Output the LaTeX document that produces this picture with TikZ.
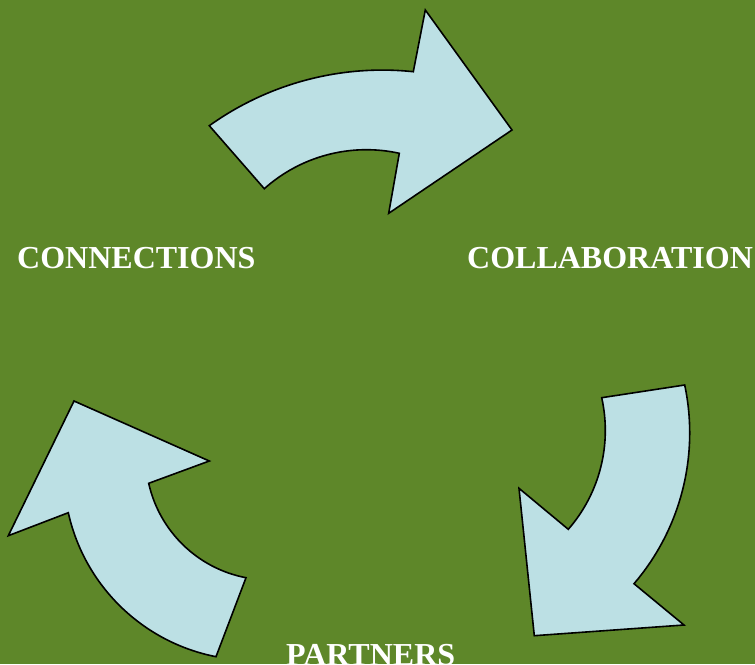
\documentclass[tikz,border=0pt]{standalone}
\usepackage{fontspec}
\setmainfont{Liberation Serif}
\definecolor{bggreen}{RGB}{94,135,41}
\definecolor{arrowblue}{RGB}{188,224,228}
\tikzset{
  cyclearrow/.style={fill=arrowblue, draw=black, line width=1.6pt, line join=miter},
  label/.style={text=white, font=\fontsize{32}{38}\selectfont\bfseries, inner sep=0pt, anchor=base west}
}
\begin{document}
\begin{tikzpicture}[x=1pt,y=-1pt]
\fill[bggreen] (0,0) rectangle (755,664);
\useasboundingbox (0,0) rectangle (755,664);
% top arrow
\draw[cyclearrow] (264.3,188.7) -- (209.3,125.7)
  .. controls (268.4,83.4) and (341,64.1) .. (413.3,71.7)
  -- (425.3,10) -- (512,130) -- (388.7,213.3) -- (399.3,153.3)
  .. controls (351.3,142.7) and (300.9,155.9) .. (264.3,188.7)
  -- cycle;
% right arrow
\draw[cyclearrow] (601.7,397.7) -- (684.7,385)
  .. controls (699.6,455.5) and (680.8,529) .. (634,583.7)
  -- (684,625) -- (534.3,635.7) -- (519,488.3) -- (568.3,529.3)
  .. controls (599.7,493.3) and (612.1,444.4) .. (601.7,397.7)
  -- cycle;
% left arrow
\draw[cyclearrow] (246,577.7) -- (216,656.7)
  .. controls (142.6,642.3) and (84.5,585.7) .. (68.3,512.7)
  -- (8.3,535.7) -- (74,401) -- (209.3,461) -- (148.7,483.3)
  .. controls (159.4,531.3) and (197.7,568.5) .. (246,577.7)
  -- cycle;
\node[label] (connections) at (17,268) {CONNECTIONS};
\node[label] (collaboration) at (467,268) {COLLABORATION};
\node[label] (partners) at (286,665) {PARTNERS};
\end{tikzpicture}
\end{document}
